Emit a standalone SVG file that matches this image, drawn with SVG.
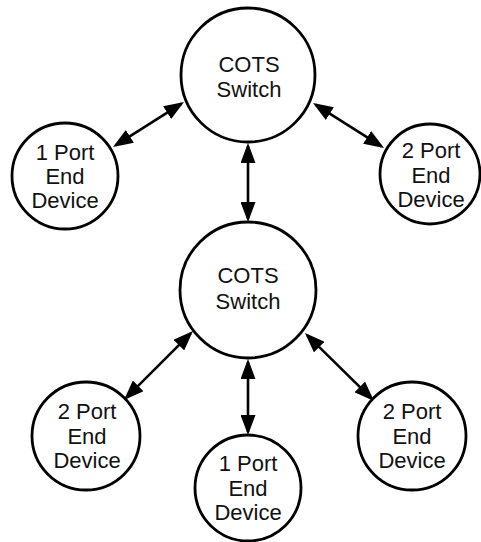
<svg xmlns="http://www.w3.org/2000/svg" width="481" height="542" viewBox="0 0 481 542">
<style>
.node circle{fill:#fff;stroke:#000;stroke-width:2.8}
.node text{font-family:"Liberation Sans",Arial,sans-serif;font-size:22px;fill:#111;text-anchor:middle}
.conn line{stroke:#000;stroke-width:2.6;marker-start:url(#ah);marker-end:url(#ah)}
</style>
<defs>
<marker id="ah" markerUnits="userSpaceOnUse" markerWidth="20" markerHeight="15" refX="17" refY="7.5" orient="auto-start-reverse">
<path d="M0,0 L20,7.5 L0,15 z" fill="#000"/>
</marker>
</defs>
<rect width="481" height="542" fill="#fff"/>
<g id="connectors" class="conn">
<line x1="181.5" y1="103.6" x2="115.5" y2="145.4"/>
<line x1="315.5" y1="104.6" x2="381.5" y2="146.4"/>
<line x1="248" y1="146" x2="248" y2="219"/>
<line x1="190.9" y1="333.1" x2="126.1" y2="397.9"/>
<line x1="307.1" y1="335.1" x2="371.9" y2="398.9"/>
<line x1="248" y1="362" x2="248" y2="432"/>
</g>
<g id="switch1" class="node">
<circle cx="248" cy="75" r="67"/>
<text x="249" y="72">COTS</text>
<text x="249" y="97">Switch</text>
</g>
<g id="end1" class="node">
<circle cx="65" cy="176" r="53"/>
<text x="65" y="160">1 Port</text>
<text x="65" y="184">End</text>
<text x="65" y="208">Device</text>
</g>
<g id="end2" class="node">
<circle cx="430" cy="174" r="50"/>
<text x="431" y="158">2 Port</text>
<text x="431" y="183">End</text>
<text x="431" y="207">Device</text>
</g>
<g id="switch2" class="node">
<circle cx="248" cy="290" r="68"/>
<text x="248" y="283">COTS</text>
<text x="248" y="309">Switch</text>
</g>
<g id="end3" class="node">
<circle cx="86" cy="436" r="54"/>
<text x="87" y="419">2 Port</text>
<text x="87" y="444">End</text>
<text x="87" y="468">Device</text>
</g>
<g id="end4" class="node">
<circle cx="248" cy="488" r="53"/>
<text x="248" y="471">1 Port</text>
<text x="248" y="496">End</text>
<text x="248" y="520">Device</text>
</g>
<g id="end5" class="node">
<circle cx="412" cy="436" r="54"/>
<text x="412" y="419">2 Port</text>
<text x="412" y="444">End</text>
<text x="412" y="468">Device</text>
</g>
</svg>
